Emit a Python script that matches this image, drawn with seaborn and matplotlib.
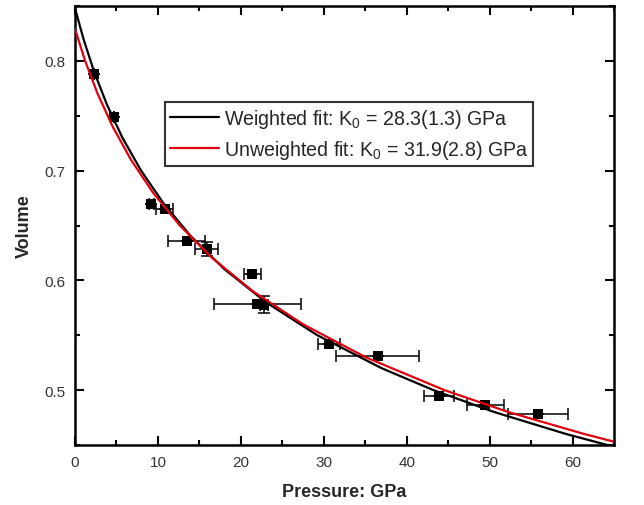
import matplotlib
matplotlib.use("Agg")
import matplotlib.pyplot as plt
import matplotlib.ticker as mticker
import numpy as np
import pandas as pd
import seaborn as sns

# measured points (pressure in GPa, volume) with error bars
pressure = [2.3, 4.7, 9.2, 10.8, 13.45, 15.9, 21.4, 22.0, 22.8, 30.6, 36.5, 43.9, 49.5, 55.8]
volume = [0.788, 0.749, 0.670, 0.665, 0.636, 0.6285, 0.606, 0.5785, 0.578, 0.542, 0.531, 0.495, 0.486, 0.478]
p_err = [0.0, 0.0, 0.3, 1.0, 2.2, 1.4, 1.0, 5.2, 0.5, 1.3, 5.0, 1.8, 2.25, 3.6]
v_err = [0.0, 0.0, 0.0, 0.0, 0.0, 0.0064, 0.0, 0.0, 0.008, 0.0, 0.0, 0.0, 0.0, 0.0]

# fitted curves
w_p = [0.0, 1.02, 2.31, 3.86, 5.72, 7.97, 10.69, 14.00, 18.05, 23.04, 29.23, 36.97, 43.23, 50.57, 59.23, 65.2]
w_v = [0.848, 0.82, 0.79, 0.76, 0.73, 0.70, 0.67, 0.64, 0.61, 0.58, 0.55, 0.52, 0.50, 0.48, 0.46, 0.448]
u_p = [0.0, 1.22, 2.73, 4.55, 6.74, 9.40, 12.64, 16.60, 21.47, 27.50, 35.04, 44.55, 52.28, 61.42, 65.53]
u_v = [0.829, 0.80, 0.77, 0.74, 0.71, 0.68, 0.65, 0.62, 0.59, 0.56, 0.53, 0.50, 0.48, 0.46, 0.452]

labels = ["Weighted fit: K$_0$ = 28.3(1.3) GPa", "Unweighted fit: K$_0$ = 31.9(2.8) GPa"]

sns.set_theme(style="ticks")
plt.rcParams.update({
    "font.family": ["Liberation Sans", "DejaVu Sans"],
    "mathtext.default": "regular",
    "axes.linewidth": 1.8,
    "xtick.direction": "in",
    "ytick.direction": "in",
    "xtick.top": True,
    "ytick.right": True,
    "xtick.major.size": 6.5,
    "ytick.major.size": 6.5,
    "xtick.minor.size": 3.6,
    "ytick.minor.size": 3.6,
    "xtick.major.width": 1.5,
    "ytick.major.width": 1.5,
    "xtick.minor.width": 1.5,
    "ytick.minor.width": 1.5,
    "xtick.color": "black",
    "ytick.color": "black",
})

fits = pd.concat([
    pd.DataFrame({"P": w_p, "V": w_v, "fit": labels[0]}),
    pd.DataFrame({"P": u_p, "V": u_v, "fit": labels[1]}),
])
pts = pd.DataFrame({"P": pressure, "V": volume})

fig = plt.figure(figsize=(6.44, 5.06), dpi=100)
ax = fig.add_axes([75 / 644, 60 / 506, 539 / 644, 439 / 506])

ax.errorbar(pressure, volume, xerr=p_err, yerr=v_err, fmt="none",
            ecolor="black", elinewidth=1.1, capsize=4, capthick=1.1, zorder=2)
sns.scatterplot(data=pts, x="P", y="V", marker="s", s=55, color="black",
                edgecolor="black", linewidth=0, ax=ax, zorder=3)
sns.lineplot(data=fits, x="P", y="V", hue="fit", palette=["black", "#e0000f"],
             estimator=None, sort=False, linewidth=1.6, ax=ax, zorder=4)

ax.set_xlim(0, 65)
ax.set_ylim(0.45, 0.85)
ax.xaxis.set_major_locator(mticker.MultipleLocator(10))
ax.xaxis.set_minor_locator(mticker.MultipleLocator(5))
ax.yaxis.set_major_locator(mticker.MultipleLocator(0.1))
ax.yaxis.set_minor_locator(mticker.MultipleLocator(0.05))
ax.yaxis.set_major_formatter(mticker.FormatStrFormatter("%.1f"))
ax.tick_params(which="both", labelsize=11, labelcolor="#333333", pad=7)
for s in ax.spines.values():
    s.set_color("black")

ax.set_xlabel("Pressure: GPa", fontsize=13, fontweight="bold", labelpad=10)
ax.set_ylabel("Volume", fontsize=13, fontweight="bold", labelpad=8)

leg = ax.legend(loc="upper left", bbox_to_anchor=(0.167, 0.781), borderaxespad=0,
                fontsize=14.1, frameon=True, fancybox=False, borderpad=0.25,
                handlelength=2.5, handletextpad=0.25, labelspacing=0.4)
leg.get_frame().set_edgecolor("black")
leg.get_frame().set_linewidth(1.5)
leg.set_title(None)

fig.savefig("out.png", dpi=100)
